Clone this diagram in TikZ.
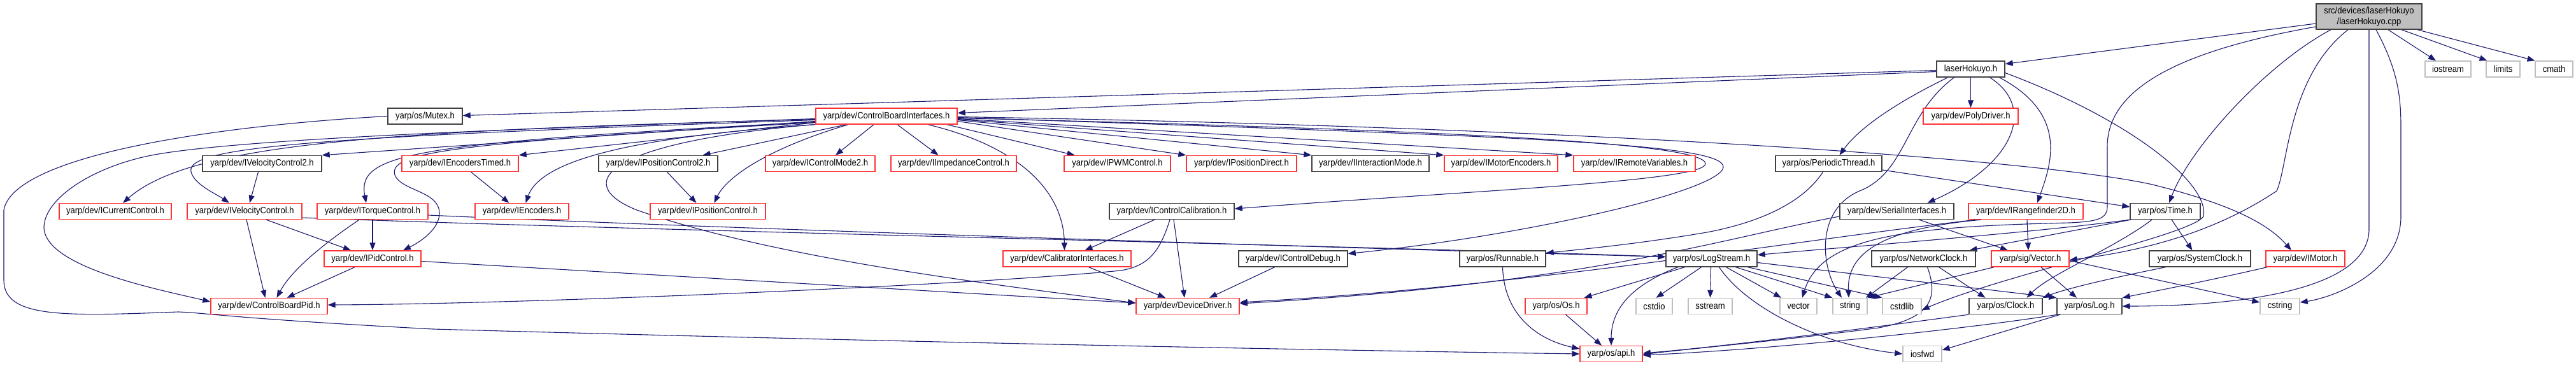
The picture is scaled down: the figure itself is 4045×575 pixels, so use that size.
\documentclass[tikz,border=0pt]{standalone}
\usepackage{fontspec}
\setmainfont{Liberation Sans}[FakeStretch=0.9]
\usetikzlibrary{arrows.meta}
\definecolor{edgec}{HTML}{191970}
\definecolor{redc}{HTML}{FF3333}
\definecolor{blkc}{HTML}{404040}
\definecolor{gryc}{HTML}{BFBFBF}
\pgfdeclarelayer{bg}
\pgfsetlayers{bg,main}
\begin{document}
\begin{tikzpicture}[x=1pt,y=-1pt,
  nd/.style={draw, line width=1.4pt, minimum height=25pt, inner sep=0pt, fill=white,
     font=\fontsize{14.5}{16}\selectfont, text=black},
  rb/.style={nd, draw=redc},
  bb/.style={nd, draw=blkc},
  gb/.style={nd, draw=gryc},
  e/.style={draw=edgec, line width=1.1pt, -{Triangle[length=12pt,width=9pt]}},
  ]
\useasboundingbox (0,0) rectangle (4045,575);
% row 0
\node[nd, draw=blkc, fill=gryc, minimum width=166pt, minimum height=40pt, align=center, font=\fontsize{14.5}{17}\selectfont] (root) at (3720,26) {src/devices/laserHokuyo\\/laserHokuyo.cpp};
% row 1
\node[bb, minimum width=107pt] (lh) at (3094.5,108.5) {laserHokuyo.h};
\node[gb, minimum width=72pt] (ios) at (3844,108.5) {iostream};
\node[gb, minimum width=53pt] (lim) at (3930.5,108.5) {limits};
\node[gb, minimum width=59pt] (cmath) at (4010.5,108.5) {cmath};
% row 2
\node[bb, minimum width=117pt] (mutex) at (667.5,182.5) {yarp/os/Mutex.h};
\node[rb, minimum width=222pt] (cbi) at (1392,182.5) {yarp/dev/ControlBoardInterfaces.h};
\node[rb, minimum width=149pt] (poly) at (3094.5,182.5) {yarp/dev/PolyDriver.h};
% row 3
\node[bb, minimum width=187pt] (ivc2) at (411.5,257) {yarp/dev/IVelocityControl2.h};
\node[rb, minimum width=183pt] (ienct) at (722.5,257) {yarp/dev/IEncodersTimed.h};
\node[bb, minimum width=187pt] (ipc2) at (1033.5,257) {yarp/dev/IPositionControl2.h};
\node[rb, minimum width=172pt] (icm2) at (1288,257) {yarp/dev/IControlMode2.h};
\node[rb, minimum width=197pt] (iimp) at (1497.5,257) {yarp/dev/IImpedanceControl.h};
\node[rb, minimum width=167pt] (ipwm) at (1754.5,257) {yarp/dev/IPWMControl.h};
\node[rb, minimum width=173pt] (ipd) at (1949.5,257) {yarp/dev/IPositionDirect.h};
\node[bb, minimum width=184pt] (iim) at (2152,257) {yarp/dev/IInteractionMode.h};
\node[rb, minimum width=178pt] (imenc) at (2357,257) {yarp/dev/IMotorEncoders.h};
\node[rb, minimum width=191pt] (irv) at (2566.5,257) {yarp/dev/IRemoteVariables.h};
\node[bb, minimum width=167pt] (pthr) at (2871.5,257) {yarp/os/PeriodicThread.h};
% row 4
\node[rb, minimum width=176pt] (icur) at (181,332) {yarp/dev/ICurrentControl.h};
\node[rb, minimum width=180pt] (ivc) at (384,332) {yarp/dev/IVelocityControl.h};
\node[rb, minimum width=174pt] (itq) at (585,332) {yarp/dev/ITorqueControl.h};
\node[rb, minimum width=147pt] (ienc) at (819.5,332) {yarp/dev/IEncoders.h};
\node[rb, minimum width=181pt] (ipc) at (1111.5,332) {yarp/dev/IPositionControl.h};
\node[bb, minimum width=196pt] (icc) at (1840,332) {yarp/dev/IControlCalibration.h};
\node[bb, minimum width=179pt] (ser) at (2978.5,332) {yarp/dev/SerialInterfaces.h};
\node[rb, minimum width=180pt] (irf) at (3181,332) {yarp/dev/IRangefinder2D.h};
\node[bb, minimum width=110pt] (time) at (3400,332) {yarp/os/Time.h};
% row 5
\node[rb, minimum width=152pt] (ipid) at (585,406.5) {yarp/dev/IPidControl.h};
\node[rb, minimum width=201pt] (calib) at (1675.5,406.5) {yarp/dev/CalibratorInterfaces.h};
\node[bb, minimum width=171pt] (icd) at (2030.5,406.5) {yarp/dev/IControlDebug.h};
\node[bb, minimum width=135pt] (runn) at (2359.5,406.5) {yarp/os/Runnable.h};
\node[bb, minimum width=143pt] (logs) at (2687.5,406.5) {yarp/os/LogStream.h};
\node[bb, minimum width=163pt] (netc) at (3020.5,406.5) {yarp/os/NetworkClock.h};
\node[rb, minimum width=122pt] (vec) at (3188,406.5) {yarp/sig/Vector.h};
\node[bb, minimum width=159pt] (sysc) at (3454.5,406.5) {yarp/os/SystemClock.h};
\node[rb, minimum width=124pt] (imot) at (3620,406.5) {yarp/dev/IMotor.h};
% row 6
\node[rb, minimum width=183pt] (cbp) at (422.5,481) {yarp/dev/ControlBoardPid.h};
\node[rb, minimum width=162pt] (dd) at (1865,481) {yarp/dev/DeviceDriver.h};
\node[rb, minimum width=97pt] (os) at (2443.5,481) {yarp/os/Os.h};
\node[gb, minimum width=57pt] (cstdio) at (2597.5,481) {cstdio};
\node[gb, minimum width=69pt] (sstream) at (2685.5,481) {sstream};
\node[gb, minimum width=58pt] (nvector) at (2824,481) {vector};
\node[gb, minimum width=54pt] (nstring) at (2905,481) {string};
\node[gb, minimum width=61pt] (cstdlib) at (2986.5,481) {cstdlib};
\node[bb, minimum width=115pt] (clock) at (3149.5,481) {yarp/os/Clock.h};
\node[bb, minimum width=102pt] (log) at (3281,481) {yarp/os/Log.h};
\node[gb, minimum width=62pt] (cstring) at (3580,481) {cstring};
% row 7
\node[rb, minimum width=98pt] (api) at (2530,556) {yarp/os/api.h};
\node[gb, minimum width=61pt] (iosfwd) at (3018.5,556) {iosfwd};

\begin{pgfonlayer}{bg}
% root
\draw[e] ([yshift=-11pt]root.west) -- ([yshift=8pt]lh.east);
\draw[e] ([xshift=30pt]root.south) -- ([xshift=-19pt]ios.north);
\draw[e] ([xshift=51pt]root.south) -- ([xshift=-25pt]lim.north);
\draw[e] ([xshift=76pt]root.south) -- ([xshift=-30pt]cmath.north);
\draw[e] ([xshift=-60pt]root.south) .. controls (3560,100) and (3440,230) .. ([xshift=6pt]time.north);
\draw[e] ([yshift=-16pt]root.west) .. controls (3420,80) and (3309,140) .. (3309,230) -- (3309,325) .. controls (3309,345) and (3290,348) .. (3250,350) .. controls (3000,356) and (2860,370) .. ([xshift=6pt]nvector.north);
\draw[e] ([xshift=-33pt]root.south) .. controls (3593,120) and (3593,260) .. (3575,300) .. controls (3500,350) and (3400,390) .. ([yshift=-2pt]vec.east);
\draw[e] (root.south) -- (3720,360) .. controls (3720,460) and (3500,481) .. (log.east);
\draw[e] ([xshift=11pt]root.south) .. controls (3765,110) and (3770,150) .. (3770,200) -- (3770,340) .. controls (3770,430) and (3660,468) .. ([yshift=6pt]cstring.east);
% laserHokuyo.h
\draw[e] ([yshift=-2pt]lh.west) -- ([yshift=1pt]mutex.east);
\draw[e] ([yshift=-4pt]lh.west) -- ([yshift=5pt]cbi.east);
\draw[e] (lh.south) -- (poly.north);
\draw[e] ([xshift=-36pt]lh.south) .. controls (2980,160) and (2920,200) .. ([xshift=17pt]pthr.north);
\draw[e] ([xshift=-26pt]lh.south) .. controls (2990,180) and (2995,270) .. (2920,300) .. controls (2850,330) and (2860,420) .. ([xshift=-13pt]nstring.north);
\draw[e] ([xshift=30pt]lh.south) .. controls (3200,170) and (3160,260) .. ([xshift=48pt]ser.north);
\draw[e] ([xshift=45pt]lh.south) .. controls (3250,180) and (3220,260) .. ([xshift=18pt]irf.north);
\draw[e] ([yshift=-6pt]lh.east) .. controls (3350,190) and (3470,290) .. (3460,340) .. controls (3440,370) and (3150,430) .. ([yshift=-6pt]cstdlib.east);
% ControlBoardInterfaces.h
\draw[e] ([yshift=-4pt]cbi.west) .. controls (900,200) and (400,215) .. (243,243) .. controls (150,260) and (70,310) .. (69,357) .. controls (70,420) and (250,455) .. ([yshift=7pt]cbp.west);
\draw[e] ([yshift=-5pt]cbi.west) .. controls (600,205) and (300,225) .. ([xshift=12pt]icur.north);
\draw[e] ([yshift=-6pt]cbi.west) .. controls (500,215) and (290,230) .. (300,270) .. controls (305,290) and (340,305) .. ([xshift=-24pt]ivc.north);
\draw[e] ([yshift=-8pt]cbi.west) -- (ivc2.north east);
\draw[e] ([yshift=-9pt]cbi.west) .. controls (650,225) and (560,240) .. ([xshift=-10pt]itq.north);
\draw[e] ([yshift=-10pt]cbi.west) .. controls (700,225) and (610,240) .. (620,275) .. controls (630,300) and (690,300) .. (690,335) .. controls (690,360) and (660,380) .. ([xshift=48pt]ipid.north);
\draw[e] ([yshift=-10pt]cbi.west) -- (ienct.north east);
\draw[e] (cbi.south west) .. controls (1000,215) and (850,250) .. ([xshift=6pt]ienc.north);
\draw[e] ([xshift=-3pt]cbi.south west) .. controls (940,225) and (900,290) .. (1000,330) .. controls (1200,400) and (1500,440) .. ([yshift=5pt]dd.west);
\draw[e] ([xshift=-63pt]cbi.south) -- ([xshift=70pt]ipc2.north);
\draw[e] ([xshift=-60pt]cbi.south) .. controls (1200,235) and (1140,280) .. ([xshift=10pt]ipc.north);
\draw[e] ([xshift=-20pt]cbi.south) -- ([xshift=24pt]icm2.north);
\draw[e] ([xshift=17pt]cbi.south) -- ([xshift=-24pt]iimp.north);
\draw[e] ([xshift=65pt]cbi.south) .. controls (1600,230) and (1670,300) .. ([xshift=-4pt]calib.north);
\draw[e] ([xshift=95pt]cbi.south) -- ([xshift=-67pt]ipwm.north);
\draw[e] ([yshift=-8pt]cbi.east) -- (ipd.north west);
\draw[e] ([yshift=-6pt]cbi.east) -- (iim.north west);
\draw[e] ([yshift=-5pt]cbi.east) -- (imenc.north west);
\draw[e] ([yshift=-4pt]cbi.east) -- (irv.north west);
\draw[e] ([yshift=-3pt]cbi.east) .. controls (2300,205) and (2675,225) .. (2678,257) .. controls (2680,285) and (2300,300) .. ([yshift=4pt]icc.east);
\draw[e] ([yshift=-2pt]cbi.east) .. controls (2400,215) and (2710,225) .. (2706,263) .. controls (2700,300) and (2400,370) .. ([yshift=8pt]icd.east);
\draw[e] ([yshift=-1pt]cbi.east) .. controls (2500,200) and (3200,250) .. (3380,290) .. controls (3500,320) and (3560,350) .. ([xshift=-22pt]imot.north);
% second level
\draw[e] ([xshift=-6pt]ivc2.south) -- ([xshift=8pt]ivc.north);
\draw[e] ([xshift=17pt]ienct.south) -- ([xshift=-20pt]ienc.north);
\draw[e] ([xshift=14pt]ipc2.south) -- ([xshift=-18pt]ipc.north);
\draw[e] ([xshift=3pt]ivc.south) -- ([xshift=-6pt]cbp.north);
\draw[e] ([xshift=34pt]ivc.south) -- ([xshift=-34pt]ipid.north);
\draw[e] ([yshift=-10pt]ivc.east) .. controls (1000,362) and (2200,388) .. ([yshift=3pt]logs.west);
\draw[e] ([yshift=-6pt]itq.east) .. controls (1200,362) and (2200,392) .. ([yshift=3pt]logs.west);
\draw[e] ([xshift=-21pt]itq.south) .. controls (520,375) and (460,420) .. ([xshift=12pt]cbp.north);
\draw[e] (itq.south) -- (ipid.north);
\draw[e] ([xshift=-28pt]ipid.south) -- ([xshift=28pt]cbp.north);
\draw[e] ([yshift=-4pt]ipid.east) -- ([yshift=5pt]dd.west);
\draw[e] ([xshift=-27pt]icc.south) -- ([xshift=28pt]calib.north);
\draw[e] ([xshift=3pt]icc.south) -- ([xshift=-5pt]dd.north);
\draw[e] ([xshift=-3pt]icc.south) .. controls (1820,400) and (1800,418) .. (1760,425) .. controls (1500,450) and (800,478) .. ([yshift=2pt]cbp.east);
\draw[e] ([xshift=34pt]calib.south) -- ([xshift=-35pt]dd.north);
\draw[e] ([xshift=-29pt]icd.south) -- ([xshift=34pt]dd.north);
\draw[e] ([yshift=-8pt]ser.west) .. controls (2700,375) and (2500,445) .. ([yshift=4pt]dd.east);
\draw[e] ([xshift=35pt]ser.south) -- ([xshift=-35pt]vec.north);
\draw[e] ([xshift=-78pt]irf.south) .. controls (2800,380) and (2400,450) .. ([yshift=6pt]dd.east);
\draw[e] ([xshift=2pt]irf.south) -- ([xshift=-3pt]vec.north);
\draw[e] ([xshift=-70pt]irf.south) .. controls (2950,360) and (2900,400) .. ([xshift=-2pt]nstring.north);
\draw[e] ([xshift=-9pt]pthr.south) .. controls (2830,320) and (2760,350) .. (2680,365) .. controls (2580,382) and (2500,390) .. ([yshift=9pt]runn.east);
\draw[e] ([yshift=-10pt]pthr.east) -- ([yshift=7pt]time.west);
\draw[e] ([xshift=10pt]time.south) -- ([xshift=-12pt]sysc.north);
\draw[e] ([xshift=-54pt]time.south) -- ([xshift=72pt]netc.north);
\draw[e] ([xshift=-21pt]time.south) .. controls (3320,390) and (3220,430) .. ([xshift=33pt]clock.north);
\draw[e] (time.south west) .. controls (3200,365) and (2900,388) .. ([yshift=6pt]logs.east);
% LogStream
\draw[e] ([xshift=-42pt]logs.south) -- ([xshift=44pt]os.north);
\draw[e] ([xshift=-53pt]logs.south) .. controls (2570,445) and (2530,480) .. (api.north);
\draw[e] ([xshift=-16pt]logs.south) -- ([xshift=3pt]cstdio.north);
\draw[e] ([xshift=-1pt]logs.south) -- (sstream.north);
\draw[e] ([xshift=23pt]logs.south) -- ([xshift=-27pt]nvector.north);
\draw[e] ([xshift=38pt]logs.south) -- (nstring.north west);
\draw[e] ([xshift=57pt]logs.south) -- (cstdlib.north west);
\draw[e] ([yshift=-6pt]logs.east) -- (log.north west);
\draw[e] ([xshift=12pt]logs.south) .. controls (2740,480) and (2850,540) .. (iosfwd.west);
% lower
\draw[e] (runn.south) .. controls (2362,500) and (2420,535) .. ([yshift=8pt]api.west);
\draw[e] ([xshift=15pt]os.south) -- ([xshift=-15pt]api.north);
\draw[e] (mutex.west) .. controls (300,200) and (20,250) .. (6,330) -- (6,440) .. controls (6,500) and (100,497) .. (280,490) .. controls (330,492) and (360,500) .. (680,517) .. controls (1500,540) and (2200,552) .. (api.west);
\draw[e] ([xshift=-25pt]netc.south) -- ([xshift=25pt]nstring.north);
\draw[e] ([xshift=24pt]netc.south) -- ([xshift=-32pt]clock.north);
\draw[e] ([xshift=6pt]netc.south) .. controls (3045,470) and (3030,500) .. (2950,515) .. controls (2800,535) and (2650,548) .. ([yshift=-1pt]api.east);
\draw[e] ([xshift=-57pt]vec.south) -- (nstring.north east);
\draw[e] ([xshift=17pt]vec.south) -- ([xshift=-20pt]log.north);
\draw[e] ([yshift=-3pt]vec.east) -- ([yshift=6pt]cstring.west);
\draw[e] (clock.south west) .. controls (2900,520) and (2700,545) .. ([yshift=1pt]api.east);
\draw[e] ([xshift=-50pt]log.south) .. controls (3100,515) and (2800,548) .. ([yshift=-2pt]api.east);
\draw[e] ([xshift=-46pt]log.south) -- ([yshift=6pt]iosfwd.east);
\draw[e] ([xshift=-54pt]sysc.south) .. controls (3300,440) and (3240,455) .. (clock.north east);
\draw[e] ([xshift=-60pt]imot.south) .. controls (3450,445) and (3380,458) .. (log.north east);
\end{pgfonlayer}
\end{tikzpicture}
\end{document}
